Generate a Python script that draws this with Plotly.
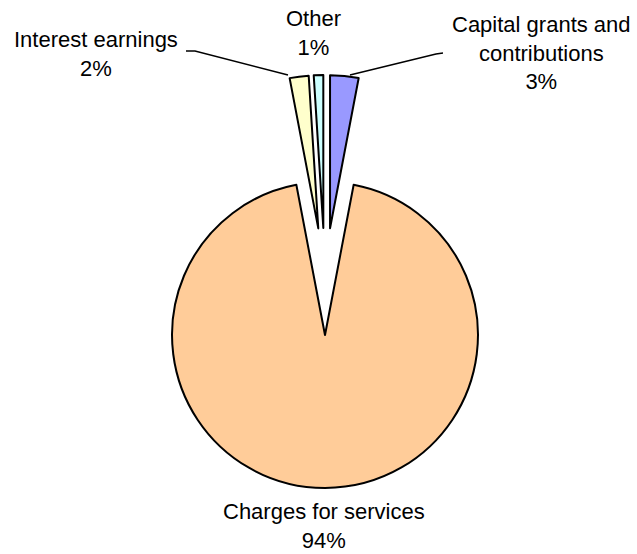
import plotly.graph_objects as go

W, H = 637, 554

labels = ["Capital grants and<br>contributions", "Charges for services", "Interest earnings", "Other"]
values = [3, 94, 2, 1]
pct_text = ["3%", "94%", "2%", "1%"]
colors = ["#9999FF", "#FFCC99", "#FFFFCC", "#CCFFFF"]
pulls = [0.35, 0.35, 0.35, 0.35]

# label block centres in pixels (x, y)
label_pos = [(541, 53), (324, 526), (96, 54), (313, 33)]


def px(x):
    return x / W


def py(y):
    return 1 - y / H


fig = go.Figure()
fig.add_trace(go.Pie(
    labels=labels,
    values=values,
    sort=False,
    direction="clockwise",
    rotation=0,
    pull=pulls,
    marker=dict(colors=colors, line=dict(color="black", width=2)),
    textinfo="none",
    hoverinfo="label+percent",
    showlegend=False,
    domain=dict(x=[px(118.5), px(531.5)], y=[py(488), py(75)]),
))

for lab, pct, (x, y) in zip(labels, pct_text, label_pos):
    fig.add_annotation(
        x=px(x), y=py(y), xref="paper", yref="paper",
        text=f"{lab}<br>{pct}", showarrow=False,
        xanchor="center", yanchor="middle",
        font=dict(family="Liberation Sans, Arial, sans-serif", size=22, color="black"),
    )

# leader lines
fig.add_shape(type="path", xref="paper", yref="paper",
              path=f"M {px(186)},{py(51)} L {px(195)},{py(51)} L {px(288)},{py(75)}",
              line=dict(color="black", width=1.5))
fig.add_shape(type="path", xref="paper", yref="paper",
              path=f"M {px(443)},{py(53)} L {px(436)},{py(54)} L {px(350)},{py(75)}",
              line=dict(color="black", width=1.5))

fig.update_layout(
    width=W, height=H,
    margin=dict(l=0, r=0, t=0, b=0),
    paper_bgcolor="white",
    plot_bgcolor="white",
)

fig.write_html(
    "out.html",
    config={"displayModeBar": False},
    post_script="document.body.style.margin='0';document.body.style.overflow='hidden';",
)
